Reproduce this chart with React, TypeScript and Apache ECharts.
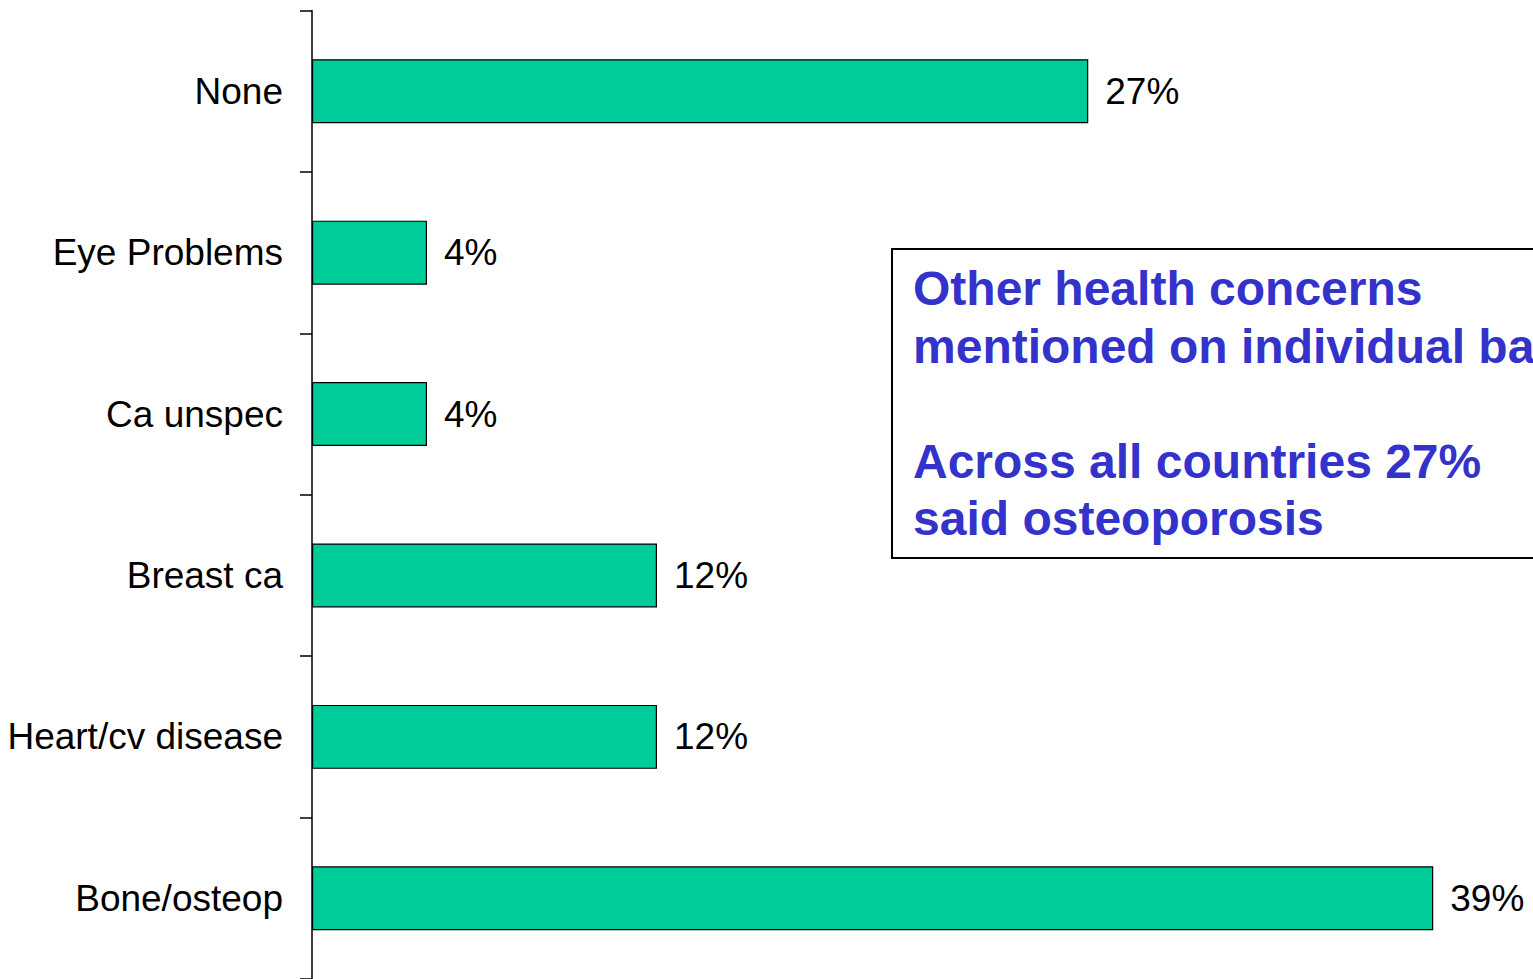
import React, { useEffect, useRef } from "react";
import * as echarts from "echarts";

const categories = ["Bone/osteop", "Heart/cv disease", "Breast ca", "Ca unspec", "Eye Problems", "None"];
const values = [39, 12, 12, 4, 4, 27];
const noteLines = [
  "Other health concerns",
  "mentioned on individual basis",
  "",
  "Across all countries 27%",
  "said osteoporosis",
];

const FONT = '"Liberation Sans", Arial, sans-serif';

export default function App() {
  const ref = useRef<HTMLDivElement>(null);
  useEffect(() => {
    if (!ref.current) return;
    const chart = echarts.init(ref.current, null, { renderer: "svg" });
    chart.setOption({
      animation: false,
      backgroundColor: "#ffffff",
      grid: { left: 312, right: 71, top: 10.5, bottom: 0, containLabel: false },
      xAxis: {
        type: "value",
        min: 0,
        max: 40,
        show: false,
      },
      yAxis: {
        type: "category",
        data: categories,
        axisLine: { show: true, lineStyle: { color: "#000", width: 1.5 } },
        axisTick: { show: true, length: 12, inside: false, lineStyle: { color: "#000", width: 1.5 } },
        axisLabel: { color: "#000", fontSize: 37, fontFamily: FONT, margin: 29 },
        splitLine: { show: false },
      },
      series: [
        {
          type: "bar",
          data: values,
          barWidth: 64,
          itemStyle: { color: "#00CC99", borderColor: "#000", borderWidth: 1.2 },
          label: {
            show: true,
            position: "right",
            distance: 17,
            formatter: "{c}%",
            color: "#000",
            fontSize: 37,
            fontFamily: FONT,
          },
        },
      ],
      graphic: [
        {
          type: "rect",
          left: 891,
          top: 248,
          shape: { x: 0, y: 0, width: 800, height: 309 },
          style: { fill: "#fff", stroke: "#000", lineWidth: 2 },
          z: 10,
        },
        {
          type: "text",
          x: 913,
          y: 260,
          z: 11,
          style: {
            text: noteLines.join("\n"),
            fill: "#3333CC",
            font: `bold 48px ${FONT}`,
            lineHeight: 57.5,
            verticalAlign: "top",
            align: "left",
          },
        },
      ],
    });
    return () => chart.dispose();
  }, []);
  return (
    <div
      ref={ref}
      style={{ position: "fixed", left: 0, top: 0, width: 1533, height: 979, background: "#fff" }}
    />
  );
}
